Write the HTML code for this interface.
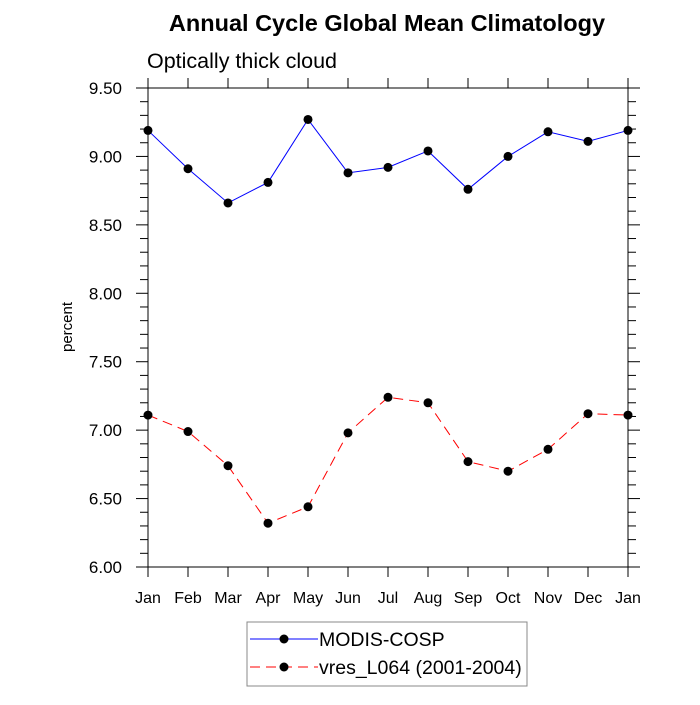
<!DOCTYPE html>
<html><head><meta charset="utf-8"><style>
body{margin:0;background:#fff}
svg text{font-family:"Liberation Sans",sans-serif}
</style></head><body>
<svg id="chart" width="700" height="700" viewBox="0 0 700 700" xmlns="http://www.w3.org/2000/svg">
<text x="387" y="31" text-anchor="middle" font-size="23.5" font-weight="bold">Annual Cycle Global Mean Climatology</text>
<text x="147" y="68" font-size="21.5">Optically thick cloud</text>
<text transform="translate(72,327) rotate(-90)" text-anchor="middle" font-size="15">percent</text>
<g id="axes"></g>
<g id="series"></g>
<g>
<rect x="247" y="622" width="280" height="64" fill="#fff" stroke="#888" stroke-width="1"/>
<g>
<line x1="250" y1="639" x2="318" y2="639" stroke="#0000ff" stroke-width="1"/>
<circle cx="284" cy="639" r="4.5" fill="#000"/>
<text x="319" y="646" font-size="19.5">MODIS-COSP</text>
</g>
<g>
<line x1="250" y1="667" x2="318" y2="667" stroke="#ff0000" stroke-width="1" stroke-dasharray="10,6"/>
<circle cx="284" cy="667" r="4.5" fill="#000"/>
<text x="319" y="674" font-size="19.5">vres_L064 (2001-2004)</text>
</g>
</g>
</svg>
<script>
const months = ["Jan","Feb","Mar","Apr","May","Jun","Jul","Aug","Sep","Oct","Nov","Dec","Jan"];
const modisValues = [9.19,8.91,8.66,8.81,9.27,8.88,8.92,9.04,8.76,9.00,9.18,9.11,9.19];
const vresValues = [7.11,6.99,6.74,6.32,6.44,6.98,7.24,7.20,6.77,6.70,6.86,7.12,7.11];
const yTicks = ["6.00","6.50","7.00","7.50","8.00","8.50","9.00","9.50"];

const NS="http://www.w3.org/2000/svg";
const L=148,R=628,T=88,B=567,yMin=6,yMax=9.5;
const xs=i=>L+(R-L)*i/(months.length-1);
const ys=v=>B-(B-T)*(v-yMin)/(yMax-yMin);
function mk(tag,attrs,parent){const e=document.createElementNS(NS,tag);for(const k in attrs)e.setAttribute(k,attrs[k]);parent.appendChild(e);return e;}
const ax=document.getElementById('axes');
const frame=mk('rect',{x:L,y:T,width:R-L,height:B-T,fill:'none',stroke:'#000','stroke-width':1},ax);


for(let v=yMin;v<=yMax+1e-9;v+=0.1){
  const y=ys(v);const major=Math.abs(v*2-Math.round(v*2))<1e-6;
  const len=major?12:8;
  mk('line',{x1:L-len,y1:y,x2:L,y2:y,stroke:'#000'},ax);
  mk('line',{x1:R,y1:y,x2:R+len,y2:y,stroke:'#000'},ax);
}
yTicks.forEach(t=>{
  const tx=mk('text',{x:L-26,y:ys(parseFloat(t))+6,'text-anchor':'end','font-size':17},ax);
  tx.textContent=t;
  
  
});
months.forEach((m,i)=>{
  const x=xs(i);
  mk('line',{x1:x,y1:B,x2:x,y2:B+10,stroke:'#000'},ax);
  mk('line',{x1:x,y1:T,x2:x,y2:T-10,stroke:'#000'},ax);
  const tx=mk('text',{x:x,y:B+36,'text-anchor':'middle','font-size':16},ax);
  tx.textContent=m;
  
  
});
const sg=document.getElementById('series');
function series(vals,color,dash,name){
  const g=mk('g',{},sg);
  
  
  const pts=vals.map((v,i)=>xs(i)+','+ys(v)).join(' ');
  const a={points:pts,fill:'none',stroke:color,'stroke-width':1};
  if(dash)a['stroke-dasharray']=dash;
  mk('polyline',a,g);
  vals.forEach((v,i)=>{
    const c=mk('circle',{cx:xs(i),cy:ys(v),r:4.5,fill:'#000'},g);
    
    
  });
}
series(modisValues,'#0000ff',null,'series-modis-cosp');
series(vresValues,'#ff0000','10,6','series-vres-l064');
</script>
</body></html>
